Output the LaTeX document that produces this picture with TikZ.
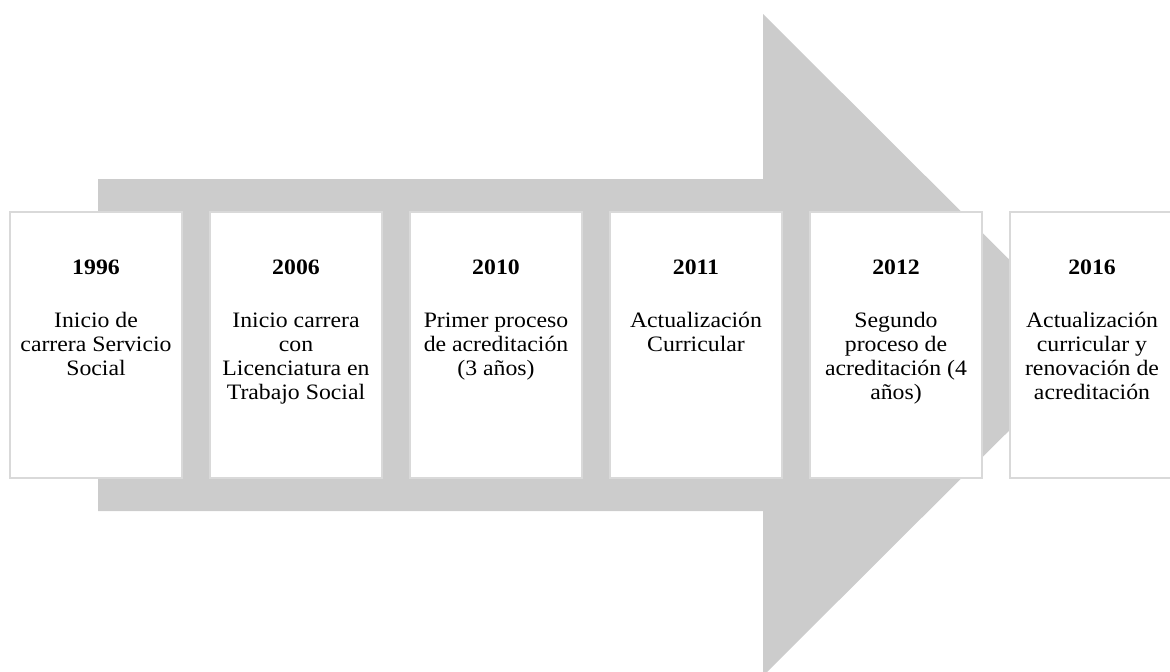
\documentclass[tikz,border=0pt]{standalone}
\usepackage{fontspec}
\setmainfont{Liberation Serif}[FakeStretch=1.08]
\definecolor{arrowgray}{HTML}{CCCCCC}
\definecolor{boxline}{HTML}{D9D9D9}
\begin{document}
\begin{tikzpicture}[x=0.75pt,y=-0.75pt,
  boxnode/.style={draw=boxline, line width=1.5pt, fill=white,
    minimum width=129pt, minimum height=199.5pt, inner sep=0pt},
  yearnode/.style={anchor=base, inner sep=0pt,
    font=\fontsize{16.5pt}{18pt}\selectfont\bfseries},
  bodynode/.style={anchor=north, align=center, inner sep=0pt,
    font=\fontsize{16.5pt}{18pt}\selectfont}]
\useasboundingbox (0,0) rectangle (1170,671);
\clip (0,0) rectangle (1170,671);
% big arrow
\fill[arrowgray] (98,179) -- (763,179) -- (763,14) -- (1095,345)
  -- (763,676) -- (763,511) -- (98,511) -- cycle;
% boxes
\node[boxnode] (box1) at (96,345) {};
\node[boxnode] (box2) at (296,345) {};
\node[boxnode] (box3) at (496,345) {};
\node[boxnode] (box4) at (696,345) {};
\node[boxnode] (box5) at (896,345) {};
\node[boxnode] (box6) at (1096,345) {};
% years
\node[yearnode] (year1) at (96,274) {1996};
\node[yearnode] (year2) at (296,274) {2006};
\node[yearnode] (year3) at (496,274) {2010};
\node[yearnode] (year4) at (696,274) {2011};
\node[yearnode] (year5) at (896,274) {2012};
\node[yearnode] (year6) at (1092,274) {2016};
% texts
\node[bodynode] (text1) at (96,310.2) {\strut Inicio de\\carrera Servicio\\Social};
\node[bodynode] (text2) at (296,310.2) {\strut Inicio carrera\\con\\Licenciatura en\\Trabajo Social};
\node[bodynode] (text3) at (496,310.2) {\strut Primer proceso\\de acreditación\\(3 años)};
\node[bodynode] (text4) at (696,310.2) {\strut Actualización\\Curricular};
\node[bodynode] (text5) at (896,310.2) {\strut Segundo\\proceso de\\acreditación (4\\años)};
\node[bodynode] (text6) at (1092,310.2) {\strut Actualización\\curricular y\\renovación de\\acreditación};
\end{tikzpicture}
\end{document}
